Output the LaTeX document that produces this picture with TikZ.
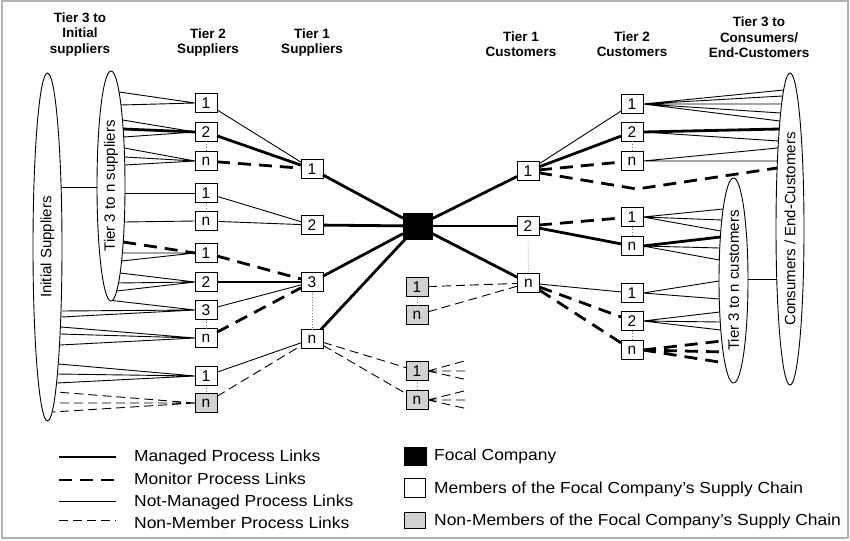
\documentclass[tikz,border=0pt]{standalone}
\usepackage{fontspec}
\setmainfont{Liberation Sans}
\newfontfamily\lgfont{Liberation Sans}[FakeStretch=1.09, Ligatures=TeX]
\usetikzlibrary{shapes.geometric}
\begin{document}
\begin{tikzpicture}[x=1pt,y=-1pt,
 mbox/.style={draw, line width=0.9pt, fill=white, minimum width=22pt, minimum height=19pt, inner sep=0pt, outer sep=0pt, font=\fontsize{15.5}{15.5}\selectfont},
 nmbox/.style={mbox, fill=gray!35},
 focal/.style={draw, fill=black, minimum width=29pt, minimum height=26pt, inner sep=0pt, outer sep=0pt},
 ell/.style={draw, ellipse, line width=0.9pt, inner sep=0pt, outer sep=0pt, font=\fontsize{15}{15}\selectfont},
 hdr/.style={align=center, font=\bfseries\fontsize{13.5}{15.5}\selectfont, inner sep=0pt},
 managed/.style={line width=2.8pt},
 monitor/.style={line width=2.8pt, dash pattern=on 13pt off 8pt},
 notman/.style={line width=0.9pt},
 nonmem/.style={line width=0.9pt, dash pattern=on 9pt off 5pt},
 dotlink/.style={gray, line width=0.7pt, dotted},
 lgtext/.style={anchor=west, inner sep=0pt, font=\lgfont\fontsize{16}{16}\selectfont}]
\useasboundingbox (0,0) rectangle (850,540);
\fill[white] (0,0) rectangle (850,540);
\draw[gray!60, line width=2pt] (1.5,1.5) rectangle (847.5,538);

% headers
\node[hdr] (h1) at (80,34.5) {Tier 3 to\\Initial\\suppliers};
\node[hdr] (h2) at (208,42.5) {Tier 2\\Suppliers};
\node[hdr] (h3) at (312,42.5) {Tier 1\\Suppliers};
\node[hdr] (h4) at (521,44) {Tier 1\\Customers};
\node[hdr] (h5) at (632,44) {Tier 2\\Customers};
\node[hdr] (h6) at (759,37.5) {Tier 3 to\\Consumers/\\End-Customers};

% ellipses
\node[ell, minimum width=348pt, minimum height=29pt, rotate=90] (E1) at (47.5,247) {Initial Suppliers};
\node[ell, minimum width=230pt, minimum height=28pt, rotate=90] (E2) at (111,186) {Tier 3 to n suppliers};
\node[ell, minimum width=205pt, minimum height=29pt, rotate=90] (E3) at (733.5,280.5) {Tier 3 to n customers};
\node[ell, minimum width=312pt, minimum height=28pt, rotate=90] (E4) at (790,229) {Consumers / End-Customers};

% free ends on ellipses
\foreach \n/\x/\y in {ea1/119.1/92, ea2/120.9/105, eb1/122.5/120, eb2/123.2/129, eb3/123.7/137,
  ec1/124.2/148, ec2/124.5/157, ec3/124.8/165, ed/125/193, ee/124.3/222,
  ef1/123.2/242, ef2/122.4/253, ef3/121.6/261, eg1/120.2/273, eg2/118.5/283, eg3/116.7/291,
  eh/112/300.5, ei1/61.5/311, ei2/61.3/317, ej1/60.9/327, ej2/60.6/334, ej3/60/345,
  ek1/58.7/364, ek2/57.9/374, ek3/57/383, el1/56/392, el2/54.4/403, el3/52.6/412,
  lk1/61.6/187, lk2/97/187,
  fa1/783.8/90, fa2/782.5/96, fa3/781.6/104, fa4/780.6/113, fa5/779.8/121,
  fb1/779.3/129, fb2/778.4/141, fc1/778/148, fc2/777.4/161, fbend/637/189, fd/777.1/168,
  ga1/723.1/209, ga2/721.8/220, ga3/720.8/231, gb1/720.4/237, gb2/719.7/248, gb3/719.3/260,
  gc1/719/281, gc2/719.2/299, gd1/719.7/312, gd2/720.2/322, gd3/720.8/330,
  ge1/721.8/341, ge2/723.1/352, ge3/724.9/363, lk3/748/279, lk4/776.7/279,
  st1/468/360, st2/468/371, st3/468/380, st4/468/390, st5/468/400, st6/468/409}
  {\coordinate (\n) at (\x,\y);}

% boxes
\node[mbox] (s2a1) at (206,103) {1};
\node[mbox] (s2a2) at (206,132) {2};
\node[mbox] (s2an) at (206,161) {n};
\node[mbox] (s2b1) at (206,193) {1};
\node[mbox] (s2bn) at (206,221) {n};
\node[mbox] (s2c1) at (206,253) {1};
\node[mbox] (s2c2) at (206,282) {2};
\node[mbox] (s2c3) at (206,310) {3};
\node[mbox] (s2cn) at (206,338) {n};
\node[mbox] (s2d1) at (206,376) {1};
\node[nmbox] (s2dn) at (206,403) {n};
\node[mbox] (s1a) at (312,169) {1};
\node[mbox] (s1b) at (312,225) {2};
\node[mbox] (s1c) at (312,282) {3};
\node[mbox] (s1n) at (312,339) {n};
\node[focal] (F) at (417.5,226) {};
\node[nmbox] (g1) at (417,287) {1};
\node[nmbox] (gn) at (417,315) {n};
\node[nmbox] (m1) at (417,371) {1};
\node[nmbox] (mn) at (417,400) {n};
\node[mbox] (c1a) at (528,171) {1};
\node[mbox] (c1b) at (528,226) {2};
\node[mbox] (c1n) at (528.5,283) {n};
\node[mbox] (c2a1) at (632,104) {1};
\node[mbox] (c2a2) at (632,132) {2};
\node[mbox] (c2an) at (632,161) {n};
\node[mbox] (c2b1) at (632,217) {1};
\node[mbox] (c2bn) at (632,246) {n};
\node[mbox] (c2c1) at (632,293) {1};
\node[mbox] (c2c2) at (632,321) {2};
\node[mbox] (c2cn) at (632,350) {n};

% left fans to ellipses
\draw[notman] (s2a1.west) -- (ea1) (s2a1.west) -- (ea2);
\draw[notman] (s2a2.west) -- (eb1) (s2a2.west) -- (eb3);
\draw[managed] (s2a2.west) -- (eb2);
\draw[notman] (s2an.west) -- (ec1) (s2an.west) -- (ec2) (s2an.west) -- (ec3);
\draw[notman] (s2b1.west) -- (ed);
\draw[notman] (s2bn.west) -- (ee);
\draw[monitor] (ef1) -- (s2c1.west);
\draw[notman] (s2c1.west) -- (ef2) (s2c1.west) -- (ef3);
\draw[notman] (s2c2.west) -- (eg1) (s2c2.west) -- (eg2) (s2c2.west) -- (eg3);
\draw[notman] (s2c3.west) -- (eh) (s2c3.west) -- (ei1) (s2c3.west) -- (ei2);
\draw[notman] (s2cn.west) -- (ej1) (s2cn.west) -- (ej2) (s2cn.west) -- (ej3);
\draw[notman] (s2d1.west) -- (ek1) (s2d1.west) -- (ek2) (s2d1.west) -- (ek3);
\draw[nonmem] (s2dn.west) -- (el1) (s2dn.west) -- (el2) (s2dn.west) -- (el3);
\draw[notman] (lk1) -- (lk2);

% tier 2 -> tier 1 suppliers
\draw[notman] (s2a1) -- (s1a);
\draw[managed] (s2a2) -- (s1a);
\draw[monitor] (s2an) -- (s1a);
\draw[notman] (s2b1) -- (s1b);
\draw[notman] (s2bn) -- (s1b);
\draw[monitor] (s2c1) -- (s1c);
\draw[managed] (s2c2) -- (s1c);
\draw[notman] (s2c3) -- (s1c);
\draw[monitor] (s2cn) -- (s1c);
\draw[notman] (s2d1) -- (s1n);
\draw[nonmem] (s2dn) -- (s1n);

% tier 1 -> focal
\draw[managed] (s1a) -- (F);
\draw[managed] (s1b) -- (F);
\draw[managed] (s1c) -- (F);
\draw[managed] (s1n) -- (F);
\draw[nonmem] (s1n) -- (m1);
\draw[nonmem] (s1n) -- (mn);

% focal -> customers
\draw[managed] (F) -- (c1a);
\draw[managed] (F) -- (c1b);
\draw[managed] (F) -- (c1n);
\draw[nonmem] (g1) -- (c1n);
\draw[nonmem] (gn) -- (c1n);

\draw[notman] (c1a) -- (c2a1);
\draw[managed] (c1a) -- (c2a2);
\draw[monitor] (c1a) -- (c2an);
\draw[monitor] (c1a) -- (fbend) -- (fd);
\draw[monitor] (c1b) -- (c2b1);
\draw[managed] (c1b) -- (c2bn);
\draw[notman] (c1n) -- (c2c1);
\draw[monitor] (c1n) -- (c2c2);
\draw[monitor] (c1n) -- (c2cn);

% right fans to ellipses
\draw[notman] (c2a1.east) -- (fa1) (c2a1.east) -- (fa2) (c2a1.east) -- (fa3) (c2a1.east) -- (fa4) (c2a1.east) -- (fa5);
\draw[managed] (c2a2.east) -- (fb1);
\draw[notman] (c2a2.east) -- (fb2);
\draw[notman] (c2an.east) -- (fc1) (c2an.east) -- (fc2);
\draw[notman] (c2b1.east) -- (ga1) (c2b1.east) -- (ga2) (c2b1.east) -- (ga3);
\draw[managed] (c2bn.east) -- (gb1);
\draw[notman] (c2bn.east) -- (gb2) (c2bn.east) -- (gb3);
\draw[notman] (c2c1.east) -- (gc1) (c2c1.east) -- (gc2);
\draw[notman] (c2c2.east) -- (gd1) (c2c2.east) -- (gd2) (c2c2.east) -- (gd3);
\draw[monitor] (c2cn.east) -- (ge1) (c2cn.east) -- (ge2) (c2cn.east) -- (ge3);
\draw[notman] (lk3) -- (lk4);

% stubs of non-members
\draw[nonmem] (m1.east) -- (st1) (m1.east) -- (st2) (m1.east) -- (st3);
\draw[nonmem] (mn.east) -- (st4) (mn.east) -- (st5) (mn.east) -- (st6);

% dotted links
\foreach \a/\b in {s2a2/s2an, s2b1/s2bn, s2c3/s2cn, s2d1/s2dn, s1c/s1n, c1b/c1n,
  c2a2/c2an, c2b1/c2bn, c2c2/c2cn, g1/gn, m1/mn}
  {\draw[dotlink] (\a) -- (\b);}

% legend
\coordinate (la1) at (59,457); \coordinate (la2) at (116,457);
\coordinate (lb1) at (59,480); \coordinate (lb2) at (116,480);
\coordinate (lc1) at (59,501); \coordinate (lc2) at (116,501);
\coordinate (ld1) at (59,520); \coordinate (ld2) at (116,520);
\draw[managed] (la1) -- (la2);
\draw[monitor] (lb1) -- (lb2);
\draw[notman] (lc1) -- (lc2);
\draw[nonmem] (ld1) -- (ld2);
\node[lgtext] (t1) at (134,457) {Managed Process Links};
\node[lgtext] (t2) at (134,479) {Monitor Process Links};
\node[lgtext] (t3) at (134,502) {Not-Managed Process Links};
\node[lgtext] (t4) at (134,523) {Non-Member Process Links};
\node[focal, minimum width=22pt, minimum height=18pt] (lf) at (415,456) {};
\node[mbox, minimum width=21pt, minimum height=19pt] (lm) at (414.5,487.5) {};
\node[nmbox, minimum width=21pt, minimum height=16pt] (ln) at (414.5,520) {};
\node[lgtext] (t5) at (434,456) {Focal Company};
\node[lgtext] (t6) at (434,489) {Members of the Focal Company’s Supply Chain};
\node[lgtext] (t7) at (434,521) {Non-Members of the Focal Company’s Supply Chain};
\end{tikzpicture}
\end{document}
